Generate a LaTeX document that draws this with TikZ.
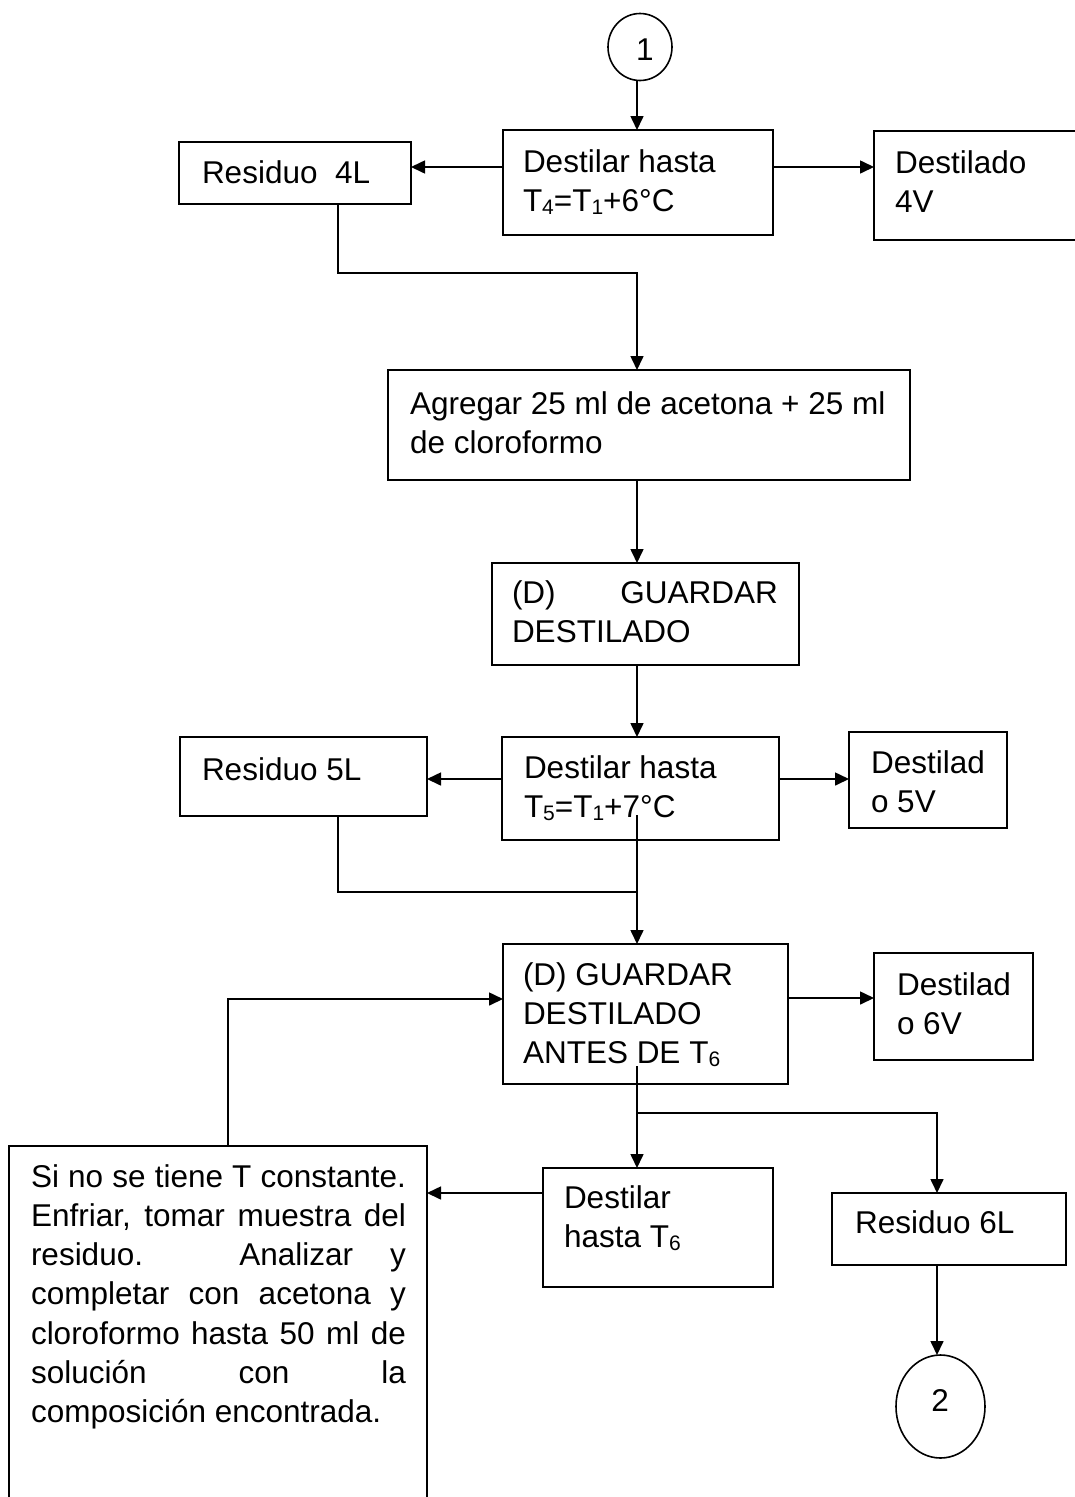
\documentclass[tikz,border=0pt]{standalone}
\usepackage{fontspec}
\setmainfont{Liberation Sans}
\usetikzlibrary{arrows.meta,shapes.geometric}

% lowered, smaller index (T_4, T_1, ...)
\newcommand\subidx[1]{\raisebox{-3pt}{\fontsize{21}{21}\selectfont #1}}
% fixes the height of the first line of a text block
\newcommand\firstline{\rule{0pt}{25pt}}

\begin{document}
\begin{tikzpicture}[x=1pt,y=-1pt,
  box/.style={draw, line width=1.6pt, rectangle, anchor=north west,
              inner sep=0pt, outer sep=0pt},
  term/.style={draw, ellipse, line width=1.6pt, inner sep=0pt, outer sep=0pt},
  txt/.style={anchor=north west, inner sep=0pt, outer sep=0pt, align=left,
              font=\fontsize{31.5}{39}\selectfont},
  num/.style={anchor=base, inner sep=0pt, font=\fontsize{31.5}{39}\selectfont},
  link/.style={line width=1.6pt},
  arr/.style={link, -{Triangle[length=14pt,width=13pt]}}
]
\useasboundingbox (0,0) rectangle (1075,1497);
\clip (0,0) rectangle (1075,1497);

% ---------- shapes ----------
\node[term, minimum width=64pt, minimum height=67pt] (c1) at (640,47) {};
\node[num] (n1) at (645,60) {1};

\node[box, minimum width=232pt, minimum height=62pt]  (r4) at (179,142) {};
\node[box, minimum width=270pt, minimum height=105pt] (a)  at (503,130) {};
\node[box, minimum width=210pt, minimum height=109pt] (d4) at (874,131) {};

\node[box, minimum width=522pt, minimum height=110pt] (b)  at (388,370) {};
\node[box, minimum width=307pt, minimum height=102pt] (c)  at (492,563) {};

\node[box, minimum width=247pt, minimum height=79pt]  (r5) at (180,737) {};
\node[box, minimum width=277pt, minimum height=103pt] (d)  at (502,737) {};
\node[box, minimum width=158pt, minimum height=96pt]  (d5) at (849,732) {};

\node[box, minimum width=285pt, minimum height=140pt] (e)  at (503,944) {};
\node[box, minimum width=159pt, minimum height=107pt] (d6) at (874,953) {};

\node[box, minimum width=418pt, minimum height=400pt] (s)  at (9,1146) {};
\node[box, minimum width=230pt, minimum height=119pt] (f)  at (543,1168) {};
\node[box, minimum width=234pt, minimum height=72pt]  (r6) at (832,1193) {};

\node[term, minimum width=89pt, minimum height=103pt] (c2) at (940.5,1406.5) {};
\node[num] (n2) at (940,1411) {2};

% ---------- texts ----------
\node[txt] (tr4) at (202,158) {\firstline Residuo\ \ 4L};
\node[txt] (ta)  at (523,147) {\firstline Destilar hasta\\T\subidx{4}=T\subidx{1}+6°C};
\node[txt] (td4) at (895,148) {\firstline Destilado\\4V};
\node[txt] (tb)  at (410,389) {\firstline Agregar 25 ml de acetona + 25 ml\\de cloroformo};
\node[txt] (tc)  at (512,578) {\firstline\makebox[266pt][s]{(D) GUARDAR}\\DESTILADO};
\node[txt] (tr5) at (202,755) {\firstline Residuo 5L};
\node[txt] (td)  at (524,753) {\firstline Destilar hasta\\T\subidx{5}=T\subidx{1}+7°C};
\node[txt] (td5) at (871,748) {\firstline Destilad\\o 5V};
\node[txt] (te)  at (523,960) {\firstline (D) GUARDAR\\DESTILADO\\ANTES DE T\subidx{6}};
\node[txt] (td6) at (897,970) {\firstline Destilad\\o 6V};
\node[txt] (tf)  at (564,1183) {\firstline Destilar\\hasta T\subidx{6}};
\node[txt] (tr6) at (855,1208) {\firstline Residuo 6L};
\node[txt, font=\fontsize{31.5}{39.3}\selectfont] (ts) at (31,1162) {\firstline
  \makebox[375pt][s]{Si no se tiene T constante.}\\
  \makebox[375pt][s]{Enfriar, tomar muestra del}\\
  \makebox[375pt][s]{residuo. Analizar y}\\
  \makebox[375pt][s]{completar con acetona y}\\
  \makebox[375pt][s]{cloroformo hasta 50 ml de}\\
  \makebox[375pt][s]{solución con la}\\
  composición encontrada.};

% ---------- connectors ----------
\coordinate (sp) at (637,0);    % main vertical line
\coordinate (rb) at (937,0);    % right branch line
\coordinate (y4) at (0,167);
\coordinate (y5) at (0,779);
\coordinate (y6) at (0,998);
\coordinate (yf) at (0,1193);
\coordinate (k1) at (338,273);
\coordinate (k2) at (338,892);
\coordinate (k3) at (637,815);
\coordinate (k4) at (228,999);
\coordinate (k5) at (637,1066);
\coordinate (k6) at (637,1113);

\draw[arr] (c1.south -| sp) -- (a.north -| sp);
\draw[arr] (a.west |- y4) -- (r4.east |- y4);
\draw[arr] (a.east |- y4) -- (d4.west |- y4);
\draw[arr] (r4.south -| k1) -- (k1) -| (b.north -| sp);
\draw[arr] (b.south -| sp) -- (c.north -| sp);
\draw[arr] (c.south -| sp) -- (d.north -| sp);
\draw[arr] (d.west |- y5) -- (r5.east |- y5);
\draw[arr] (d.east |- y5) -- (d5.west |- y5);
\draw[link] (r5.south -| k2) -- (k2) -- (k2 -| sp);
\draw[arr] (k3) -- (e.north -| sp);
\draw[arr] (s.north -| k4) -- (k4) -- (e.west |- k4);
\draw[arr] (e.east |- y6) -- (d6.west |- y6);
\draw[arr] (k5) -- (f.north -| sp);
\draw[arr] (k6) -| (r6.north -| rb);
\draw[arr] (f.west |- yf) -- (s.east |- yf);
\draw[arr] (r6.south -| rb) -- (c2.north -| rb);
\end{tikzpicture}
\end{document}
